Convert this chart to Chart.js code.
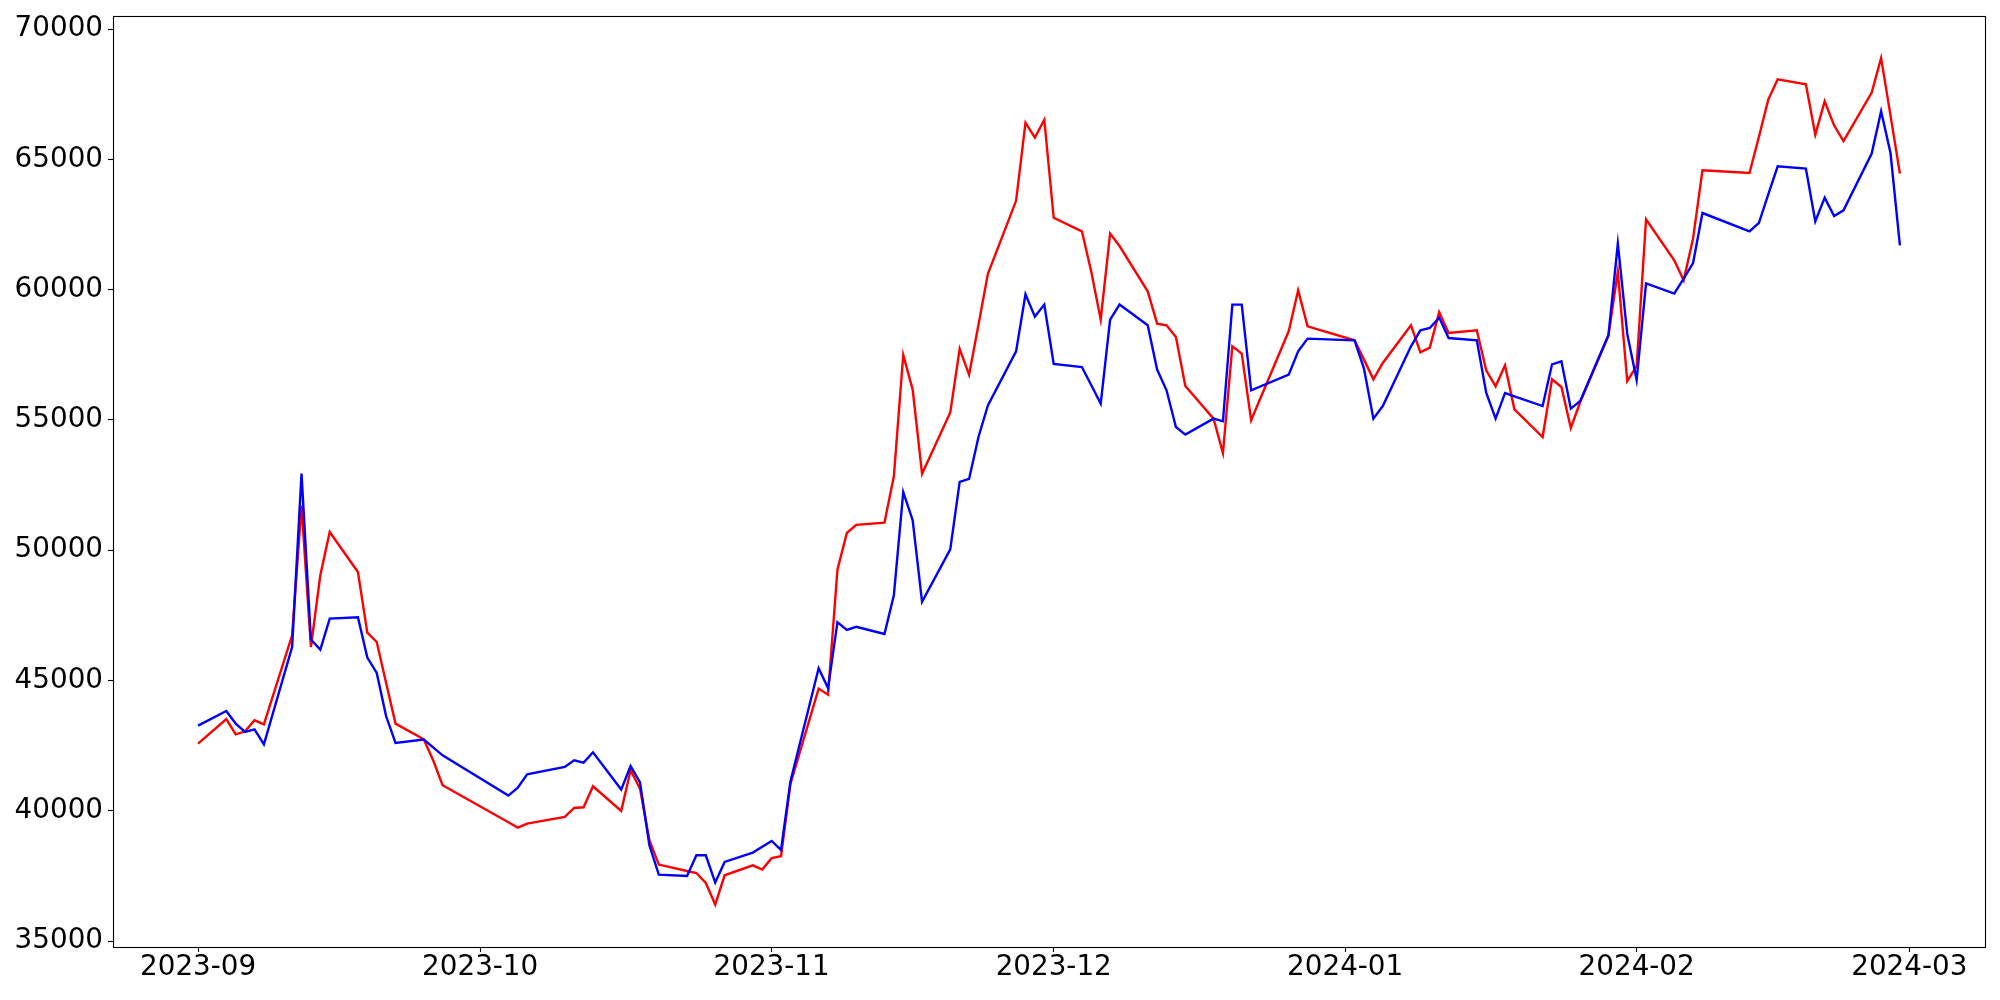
<!DOCTYPE html>
<html>
<head>
<meta charset="utf-8">
<script src="https://cdn.jsdelivr.net/npm/chart.js@4.4.1/dist/chart.umd.min.js"></script>
<style>
  html, body { margin: 0; padding: 0; background: #fff; }
</style>
</head>
<body>
<canvas id="price-chart" width="2000" height="1000"></canvas>
<script>
// trading days, counted from 2023-09-01
var days = [0, 3, 4, 5, 6, 7, 10, 11, 12, 13, 14, 17, 18, 19, 20, 21, 24, 25, 26,
    33, 34, 35, 39, 40, 41, 42, 45, 46, 47, 48, 49, 52, 53, 54, 55, 56, 59, 60, 61, 62, 63,
    66, 67, 68, 69, 70, 73, 74, 75, 76, 77, 80, 81, 82, 83, 84, 87, 88, 89, 90, 91,
    94, 95, 96, 97, 98, 101, 102, 103, 104, 105, 108, 109, 110, 111, 112, 116, 117, 118,
    123, 124, 125, 126, 129, 130, 131, 132, 133, 136, 137, 138, 139, 140, 143, 144, 145, 146, 147,
    150, 151, 152, 153, 154, 157, 158, 159, 160, 165, 166, 167, 168, 171, 172, 173, 174, 175,
    178, 179, 180, 181];

var redValues = [42576, 43520, 42933, 43048, 43470, 43317, 46733, 51700, 46284, 49035, 50697, 49162, 46836, 46476, 44900, 43344, 42741, 41936, 40976,
    39556, 39353, 39506, 39760, 40105, 40132, 40938, 39990, 41552, 40849, 38866, 37933, 37687, 37611, 37227, 36398, 37522, 37906, 37741, 38180, 38255, 41026,
    44687, 44453, 49250, 50658, 50973, 51054, 52834, 57493, 56162, 52930, 55283, 57727, 56730, 58648, 60606, 63407, 66404, 65836, 66519, 62755,
    62237, 60675, 58848, 62148, 61672, 59934, 58694, 58629, 58180, 56300, 55049, 53729, 57823, 57543, 54983, 58410, 59972, 58591,
    58054, 57313, 56557, 57182, 58629, 57593, 57773, 59140, 58334, 58437, 56902, 56288, 57094, 55406, 54343, 56557, 56261, 54688, 55686,
    58245, 60690, 56492, 57060, 62697, 61124, 60356, 61956, 64577, 64474, 65855, 67291, 68070, 67878, 65947, 67225, 66304, 65702,
    67559, 68887, 66688, 64451];

var blueValues = [43267, 43828, 43344, 43022, 43125, 42550, 46284, 52938, 46567, 46184, 47373, 47423, 45877, 45286, 43624, 42600, 42730, 42430, 42127,
    40581, 40888, 41398, 41679, 41935, 41847, 42242, 40811, 41717, 41091, 38674, 37549, 37496, 38290, 38290, 37242, 38033, 38393, 38619, 38838, 38495, 41126,
    45470, 44706, 47235, 46940, 47059, 46783, 48271, 52228, 51150, 48018, 50033, 52619, 52735, 54343, 55555, 57631, 59823, 58963, 59424, 57145,
    57029, 56327, 55624, 58848, 59424, 58629, 56929, 56135, 54726, 54435, 55049, 54945, 59424, 59424, 56135, 56737, 57631, 58119,
    58054, 56968, 55049, 55532, 57823, 58437, 58526, 58925, 58142, 58054, 56046, 55049, 56031, 55904, 55532, 57132, 57248, 55432, 55724,
    58245, 61760, 58300, 56530, 60240, 59846, 60421, 61020, 62939, 62237, 62555, 63656, 64731, 64643, 62620, 63530, 62824, 63042,
    65218, 66842, 65241, 61699];

var monthTicks = [0, 30, 61, 91, 122, 153, 182];
var monthLabels = ['2023-09', '2023-10', '2023-11', '2023-12', '2024-01', '2024-02', '2024-03'];
var yTicks = [35000, 40000, 45000, 50000, 55000, 60000, 65000, 70000];

function toPoints(vals) {
    return days.map(function (d, i) { return { x: d, y: vals[i] }; });
}

// matplotlib style box around the plot
var frame = {
    id: 'frame',
    afterDraw: function (chart) {
        var a = chart.chartArea, c = chart.ctx;
        c.save();
        c.strokeStyle = '#000';
        c.lineWidth = 1.1;
        c.strokeRect(a.left + 0.5, a.top + 0.5, a.right - a.left, a.bottom - a.top);
        c.restore();
    }
};

Chart.defaults.font.family = "'DejaVu Sans', sans-serif";
Chart.defaults.font.size = 27.8;
Chart.defaults.color = '#000';

var ctx = document.getElementById('price-chart').getContext('2d');
var myChart = new Chart(ctx, {
    type: 'line',
    data: {
        datasets: [{
            data: toPoints(blueValues),
            borderColor: '#0000ff',
            borderWidth: 2.4,
            pointRadius: 0,
            tension: 0,
            fill: false
        }, {
            data: toPoints(redValues),
            borderColor: '#ff0000',
            borderWidth: 2.4,
            pointRadius: 0,
            tension: 0,
            fill: false
        }]
    },
    options: {
        responsive: false,
        devicePixelRatio: 1,
        animation: false,
        layout: { padding: { top: 16, right: 15, left: 0, bottom: 0 } },
        plugins: {
            legend: { display: false },
            tooltip: { enabled: false }
        },
        scales: {
            x: {
                type: 'linear',
                min: -9.05,
                max: 190.05,
                border: { display: false },
                grid: { drawOnChartArea: false, drawTicks: true, tickLength: 5, tickWidth: 1.1, tickColor: '#000' },
                ticks: {
                    padding: 2,
                    maxRotation: 0,
                    autoSkip: false,
                    font: { lineHeight: 1 },
                    callback: function (v, i) { return monthLabels[i]; }
                },
                afterBuildTicks: function (s) {
                    s.ticks = monthTicks.map(function (d) { return { value: d }; });
                },
                afterFit: function (s) {
                    s.height = 53;
                    s.paddingLeft = 0;
                    s.paddingRight = 0;
                }
            },
            y: {
                min: 34770,
                max: 70500,
                border: { display: false },
                grid: { drawOnChartArea: false, drawTicks: true, tickLength: 5, tickWidth: 1.1, tickColor: '#000' },
                ticks: {
                    padding: 5,
                    font: { lineHeight: 1 },
                    callback: function (v) { return String(v); }
                },
                afterBuildTicks: function (s) {
                    s.ticks = yTicks.map(function (v) { return { value: v }; });
                },
                afterFit: function (s) {
                    s.width = 113;
                    s.paddingTop = 0;
                    s.paddingBottom = 0;
                }
            }
        }
    },
    plugins: [frame]
});
</script>
</body>
</html>
